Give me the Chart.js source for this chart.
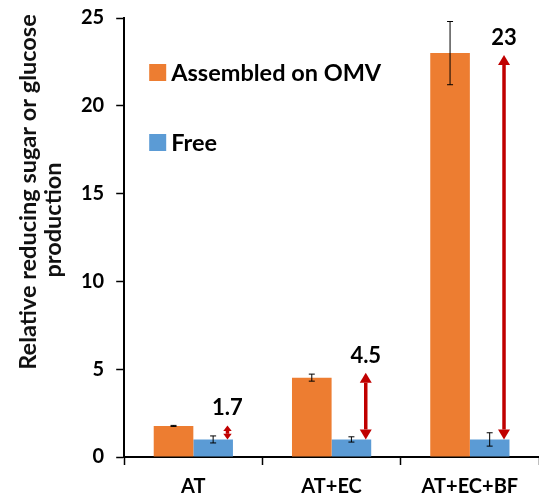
<!DOCTYPE html>
<html>
<head>
  <title>Relative reducing sugar production</title>
  <script src="https://cdn.jsdelivr.net/npm/chart.js"></script>
  <style>
    body { margin: 0; background: #fff; overflow: hidden; }
    canvas { display: block; margin-top: -6px; }
  </style>
</head>
<body>
  <canvas id="sugarChart" width="539" height="505"></canvas>
  <script>
    // values
    const categories = ['AT', 'AT+EC', 'AT+EC+BF'];
    const omvValues = [1.77, 4.52, 23.0];
    const omvErrors = [0.03, 0.2, 1.8];
    const freeValues = [1.0, 1.0, 1.0];
    const freeErrors = [0.2, 0.15, 0.38];
    const foldLabels = ['1.7', '4.5', '23'];
    const arrowTops = [1.8, 4.8, 22.9];
    const yTicks = [0, 5, 10, 15, 20, 25];
    const seriesNames = ['Assembled on OMV', 'Free'];
    const seriesColors = ['#ED7D31', '#5B9BD5'];

    const FONT = 'Lato, "Open Sans", sans-serif';

    const errorBars = {
      id: 'errorBars',
      afterDatasetsDraw(chart) {
        const ctx = chart.ctx, y = chart.scales.y;
        ctx.save();
        ctx.strokeStyle = '#000';
        ctx.lineWidth = 1;
        chart.data.datasets.forEach((ds, i) => {
          chart.getDatasetMeta(i).data.forEach((bar, j) => {
            const top = y.getPixelForValue(ds.data[j] + ds.errors[j]);
            const bot = y.getPixelForValue(ds.data[j] - ds.errors[j]);
            ctx.beginPath();
            ctx.moveTo(bar.x, top); ctx.lineTo(bar.x, bot);
            ctx.moveTo(bar.x - 3, top); ctx.lineTo(bar.x + 3, top);
            ctx.moveTo(bar.x - 3, bot); ctx.lineTo(bar.x + 3, bot);
            ctx.stroke();
          });
        });
        ctx.restore();
      }
    };

    const foldArrows = {
      id: 'foldArrows',
      afterDatasetsDraw(chart) {
        const ctx = chart.ctx, x = chart.scales.x, y = chart.scales.y;
        const step = x.getPixelForValue(1) - x.getPixelForValue(0);
        ctx.save();
        ctx.lineWidth = 3.5;
        categories.forEach((c, i) => {
          const ax = x.getPixelForValue(i) + 0.247 * step;
          const yb = y.getPixelForValue(freeValues[i]);
          const yt = y.getPixelForValue(arrowTops[i]);
          const hh = Math.min(10, (yb - yt) * 0.4);
          const hw = Math.min(6, hh * 0.75);
          ctx.strokeStyle = '#C00000';
          ctx.fillStyle = '#C00000';
          ctx.beginPath();
          ctx.moveTo(ax, yt + hh); ctx.lineTo(ax, yb - hh);
          ctx.stroke();
          ctx.beginPath();
          ctx.moveTo(ax, yt); ctx.lineTo(ax - hw, yt + hh); ctx.lineTo(ax + hw, yt + hh);
          ctx.closePath(); ctx.fill();
          ctx.beginPath();
          ctx.moveTo(ax, yb); ctx.lineTo(ax - hw, yb - hh); ctx.lineTo(ax + hw, yb - hh);
          ctx.closePath(); ctx.fill();
          ctx.fillStyle = '#000';
          ctx.font = 'bold 22px ' + FONT;
          ctx.textAlign = 'center';
          ctx.textBaseline = 'middle';
          ctx.fillText(foldLabels[i], ax, yt - 17);
        });
        ctx.restore();
      }
    };

    const insideLegend = {
      id: 'insideLegend',
      afterDraw(chart) {
        const ctx = chart.ctx, area = chart.chartArea;
        ctx.save();
        ctx.font = 'bold 23.5px ' + FONT;
        ctx.textBaseline = 'middle';
        ctx.textAlign = 'left';
        chart.data.datasets.forEach((ds, i) => {
          const cy = area.top + 54 + i * 70;
          ctx.fillStyle = ds.backgroundColor;
          ctx.fillRect(area.left + 25, cy - 8, 17, 17);
          ctx.fillStyle = '#000';
          ctx.fillText(ds.label, area.left + 47, cy + 1);
        });
        ctx.restore();
      }
    };

    const yTitle = {
      id: 'yTitle',
      afterDraw(chart) {
        const ctx = chart.ctx;
        [['Relative reducing sugar or glucose', 28, 198], ['production', 53, 226]].forEach(([t, tx, ty]) => {
          ctx.save();
          ctx.fillStyle = '#111';
          ctx.font = 'bold 23.5px ' + FONT;
          ctx.textAlign = 'center';
          ctx.textBaseline = 'middle';
          ctx.translate(tx, ty);
          ctx.rotate(-Math.PI / 2);
          ctx.fillText(t, 0, 0);
          ctx.restore();
        });
      }
    };

    const ctx = document.getElementById('sugarChart').getContext('2d');
    new Chart(ctx, {
      type: 'bar',
      data: {
        labels: categories,
        datasets: [
          { label: seriesNames[0], data: omvValues, errors: omvErrors, backgroundColor: seriesColors[0] },
          { label: seriesNames[1], data: freeValues, errors: freeErrors, backgroundColor: seriesColors[1] }
        ]
      },
      options: {
        responsive: false,
        animation: false,
        layout: { padding: { left: 69, top: -2, right: 0, bottom: -10 } },
        datasets: { bar: { categoryPercentage: 0.573, barPercentage: 1.0 } },
        plugins: { legend: { display: false }, tooltip: { enabled: false } },
        scales: {
          x: {
            grid: { offset: true, drawOnChartArea: false, tickLength: 8, color: '#000', tickWidth: 1.5 },
            border: { color: '#000', width: 2 },
            ticks: { color: '#000', padding: 10, font: { family: FONT, weight: 'bold', size: 20 } }
          },
          y: {
            min: yTicks[0],
            max: yTicks[yTicks.length - 1],
            afterBuildTicks: axis => { axis.ticks = yTicks.map(v => ({ value: v })); },
            grid: { drawOnChartArea: false, tickLength: 8, color: '#000', tickWidth: 1.5 },
            border: { color: '#000', width: 2 },
            ticks: { color: '#000', padding: 12, font: { family: FONT, weight: 'bold', size: 20 } }
          }
        }
      },
      plugins: [errorBars, foldArrows, insideLegend, yTitle]
    });
  </script>
</body>
</html>
